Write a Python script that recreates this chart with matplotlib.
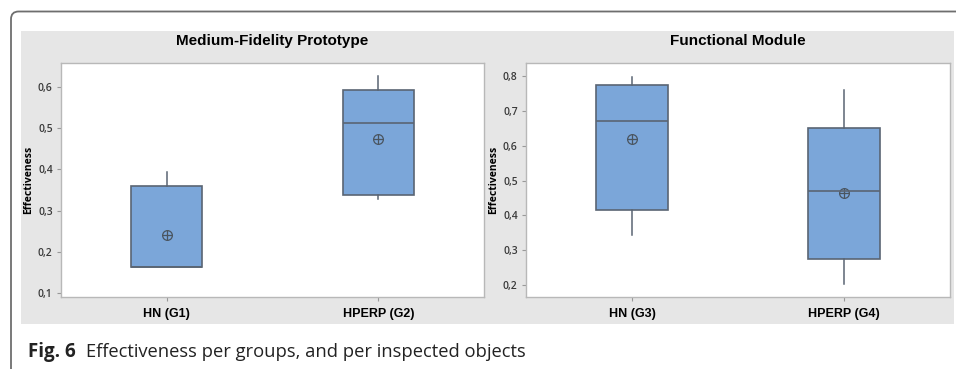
import matplotlib
matplotlib.use("Agg")
import matplotlib.pyplot as plt
from matplotlib.patches import FancyBboxPatch, Rectangle

# box statistics
left_title = "Medium-Fidelity Prototype"
left_labels = ["HN (G1)", "HPERP (G2)"]
left_q1 = [0.163, 0.337]
left_med = [0.163, 0.512]
left_q3 = [0.360, 0.592]
left_lo = [0.163, 0.327]
left_hi = [0.393, 0.626]
left_mean = [0.242, 0.474]
left_ticks = [0.1, 0.2, 0.3, 0.4, 0.5, 0.6]

right_title = "Functional Module"
right_labels = ["HN (G3)", "HPERP (G4)"]
right_q1 = [0.415, 0.275]
right_med = [0.671, 0.470]
right_q3 = [0.776, 0.651]
right_lo = [0.342, 0.202]
right_hi = [0.799, 0.759]
right_mean = [0.620, 0.465]
right_ticks = [0.2, 0.3, 0.4, 0.5, 0.6, 0.7, 0.8]

W, H = 956, 369
fig = plt.figure(figsize=(W / 100, H / 100), dpi=100)
fig.patch.set_facecolor("white")

def px(x, y, w, h):
    # pixel box (top-left origin) -> figure fraction
    return [x / W, 1 - (y + h) / H, w / W, h / H]

# outer rounded frame
fig.patches.append(FancyBboxPatch((11 / W, -0.2), 1.2, 1 - 11.5 / H + 0.2,
                                  boxstyle="round,pad=0,rounding_size=0.008",
                                  transform=fig.transFigure, fill=False,
                                  ec="#6e6e6e", lw=1.3, mutation_aspect=W / H, zorder=-2))
# grey panel
fig.patches.append(Rectangle((21 / W, 1 - 324 / H), (954 - 21) / W, (324 - 31) / H,
                             transform=fig.transFigure, fc="#e6e6e6", ec="none", zorder=-1))

box_fc = "#7ba6d9"
edge = "#5a6573"

def draw(rect, title, labels, q1, med, q3, lo, hi, mean, ticks, ylim):
    ax = fig.add_axes(px(*rect))
    stats = []
    for i in range(len(labels)):
        stats.append(dict(q1=q1[i], med=med[i], q3=q3[i], whislo=lo[i],
                          whishi=hi[i], mean=mean[i], label=labels[i], fliers=[]))
    ax.bxp(stats, positions=[1, 2], widths=0.335, patch_artist=True,
           showmeans=False, showcaps=False,
           boxprops=dict(facecolor=box_fc, edgecolor=edge, lw=1.2),
           medianprops=dict(color=edge, lw=1.2),
           whiskerprops=dict(color=edge, lw=1.1))
    ax.plot([1, 2], mean, ls="none", marker="o", ms=7, mfc="none", mec="#4a5560", mew=0.9)
    ax.plot([1, 2], mean, ls="none", marker="+", ms=7, mec="#4a5560", mew=0.9)
    ax.set_xlim(0.5, 2.5)
    ax.set_ylim(*ylim)
    ax.set_yticks(ticks)
    ax.set_yticklabels([("%.1f" % t).replace(".", ",") for t in ticks],
                       fontsize=7.5, color="#3a3a3a", family="Open Sans", fontweight="semibold")
    ax.set_xticks([1, 2])
    ax.set_xticklabels(labels, fontsize=9, fontweight="bold", family="Liberation Sans")
    ax.tick_params(axis="both", length=3, color="#999999", width=0.8, pad=3)
    ax.tick_params(axis="x", pad=5)
    for s in ax.spines.values():
        s.set_color("#b8b8b8")
        s.set_linewidth(1.0)
    ax.set_ylabel("Effectiveness", fontsize=7.5, fontweight="bold", family="Open Sans", labelpad=3)
    ax.set_title(title, fontsize=11, fontweight="bold", family="Liberation Sans", pad=13)
    return ax

draw((61, 63, 423, 234), left_title, left_labels, left_q1, left_med, left_q3,
     left_lo, left_hi, left_mean, left_ticks, (0.091, 0.657))
draw((526, 63, 424, 234), right_title, right_labels, right_q1, right_med, right_q3,
     right_lo, right_hi, right_mean, right_ticks, (0.165, 0.838))

fig.text(28 / W, 1 - 357 / H, "Fig. 6", fontsize=13.5, fontweight="bold",
         family="Open Sans", va="baseline", ha="left", color="#222222")
fig.text(86 / W, 1 - 357 / H, "Effectiveness per groups, and per inspected objects",
         fontsize=13.2, family="Open Sans", va="baseline", ha="left", color="#222222")

fig.savefig("out.png", dpi=100)
